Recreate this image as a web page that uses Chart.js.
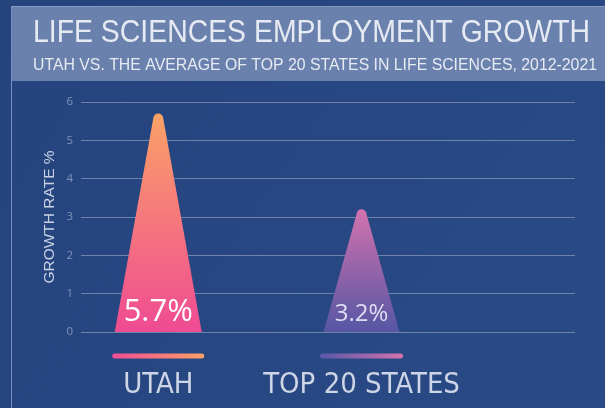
<!DOCTYPE html>
<html>
<head>
<meta charset="utf-8">
<script src="https://cdn.jsdelivr.net/npm/chart.js@4/dist/chart.umd.min.js"></script>
<style>
  html, body { margin: 0; padding: 0; background: #26457f; }
  #wrap { width: 605px; height: 408px; position: relative; }
</style>
</head>
<body>
<div id="wrap"><canvas id="chart"></canvas></div>
<script>
// --- data ---
const categories = ['UTAH', 'TOP 20 STATES'];
const growthRates = [5.7, 3.2];
const valueLabels = ['5.7%', '3.2%'];
const yTicks = [0, 1, 2, 3, 4, 5, 6];

const TITLE = 'LIFE SCIENCES EMPLOYMENT GROWTH';
const SUBTITLE = 'UTAH VS. THE AVERAGE OF TOP 20 STATES IN LIFE SCIENCES, 2012-2021';

// --- look ---
const SANS = "'Liberation Sans', Arial, sans-serif";
const NARROW = "'Liberation Sans Narrow', 'DejaVu Sans Condensed', Roboto, sans-serif";
const barStyles = [
  { baseWidth: 87, top: '#fba267', bottom: '#ef4b93', label: '#ffffff', labelSize: 31,
    lineWidth: 92, lineLeft: '#f04d93', lineRight: '#fba066' },
  { baseWidth: 76, top: '#d272ae', bottom: '#5656a4', label: '#dedff2', labelSize: 24,
    lineWidth: 83, lineLeft: '#5858a8', lineRight: '#d372ae' }
];

const headerPlugin = {
  id: 'header',
  beforeDraw(chart) {
    const ctx = chart.ctx;
    const W = chart.width, H = chart.height;
    ctx.save();
    const bg = ctx.createLinearGradient(0, 0, W, H);
    bg.addColorStop(0, '#25447e');
    bg.addColorStop(1, '#2a4a86');
    ctx.fillStyle = bg;
    ctx.fillRect(0, 0, W, H);

    // title box
    ctx.fillStyle = '#6a80ad';
    ctx.fillRect(11, 6, W - 11, 75);
    ctx.fillStyle = '#8498c4';
    ctx.fillRect(11, 6, W - 11, 1);
    // left rule
    ctx.fillStyle = '#7b90c2';
    ctx.fillRect(11, 6, 1, H - 6);

    ctx.fillStyle = '#e6eaf3';
    ctx.textBaseline = 'alphabetic';
    ctx.textAlign = 'left';
    ctx.font = '400 31px ' + SANS;
    ctx.fillText(TITLE, 33, 42, 557);
    ctx.font = '400 16.5px ' + SANS;
    ctx.fillText(SUBTITLE, 33, 70, 564);
    ctx.restore();
  }
};

const conePlugin = {
  id: 'cones',
  afterDatasetsDraw(chart) {
    const ctx = chart.ctx;
    const meta = chart.getDatasetMeta(0);
    const base = chart.scales.y.getPixelForValue(0);
    ctx.save();
    meta.data.forEach((el, i) => {
      const s = barStyles[i];
      const cx = el.x, top = el.y, r = 5;
      const g = ctx.createLinearGradient(0, top, 0, base);
      g.addColorStop(0, s.top);
      g.addColorStop(1, s.bottom);
      ctx.fillStyle = g;
      ctx.beginPath();
      ctx.moveTo(cx - s.baseWidth / 2, base);
      ctx.lineTo(cx - r, top + r);
      ctx.arc(cx, top + r, r, Math.PI, 0);
      ctx.lineTo(cx + s.baseWidth / 2, base);
      ctx.closePath();
      ctx.fill();

      // value label
      ctx.fillStyle = s.label;
      ctx.font = '400 ' + s.labelSize + "px 'Open Sans', sans-serif";
      ctx.textAlign = 'center';
      ctx.textBaseline = 'alphabetic';
      ctx.fillText(valueLabels[i], cx, base - 11);

      // legend line under the cone
      const lg = ctx.createLinearGradient(cx - s.lineWidth / 2, 0, cx + s.lineWidth / 2, 0);
      lg.addColorStop(0, s.lineLeft);
      lg.addColorStop(1, s.lineRight);
      ctx.strokeStyle = lg;
      ctx.lineWidth = 5;
      ctx.lineCap = 'round';
      ctx.beginPath();
      ctx.moveTo(cx - s.lineWidth / 2 + 2.5, base + 24);
      ctx.lineTo(cx + s.lineWidth / 2 - 2.5, base + 24);
      ctx.stroke();
    });
    ctx.restore();
  }
};

new Chart(document.getElementById('chart'), {
  type: 'scatter',
  data: {
    datasets: [{
      data: categories.map((c, i) => ({ x: i, y: growthRates[i] })),
      pointRadius: 0,
      showLine: false
    }]
  },
  options: {
    responsive: true,
    maintainAspectRatio: false,
    animation: false,
    layout: { padding: { top: 102, right: 30, bottom: 0, left: 0 } },
    plugins: { legend: { display: false }, tooltip: { enabled: false } },
    scales: {
      x: {
        type: 'linear',
        min: -0.38, max: 2.05,
        offset: false,
        grid: { display: false, drawTicks: false },
        border: { display: false },
        afterFit: s => { s.height = 76; },
        afterBuildTicks: s => { s.ticks = categories.map((c, i) => ({ value: i })); },
        ticks: {
          autoSkip: false,
          maxRotation: 0,
          padding: 36,
          color: '#cdd5e6',
          font: { family: NARROW, size: 29 },
          callback: v => categories[v]
        }
      },
      y: {
        min: 0, max: 6,
        afterFit: s => { s.width = 81; },
        afterBuildTicks: s => { s.ticks = yTicks.map(v => ({ value: v })); },
        grid: { color: '#6e82ab', lineWidth: 1, drawTicks: false },
        border: { display: false },
        ticks: { padding: 8, color: '#8193bb', font: { family: "'Open Sans', sans-serif", size: 11.5 } },
        title: {
          display: true,
          text: 'GROWTH RATE %',
          color: '#c9d1e3',
          font: { family: SANS, size: 15.5 },
          padding: { top: 40, bottom: 0 }
        }
      }
    }
  },
  plugins: [headerPlugin, conePlugin]
});
</script>
</body>
</html>
